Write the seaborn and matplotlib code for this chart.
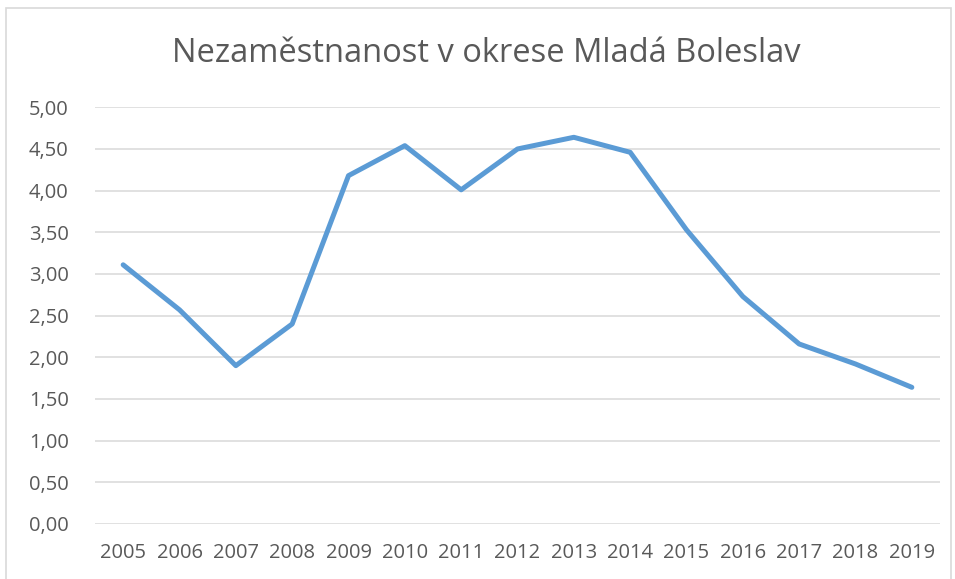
import numpy as np
import pandas as pd
import matplotlib
matplotlib.use("Agg")
import matplotlib.pyplot as plt
import seaborn as sns
from matplotlib.ticker import FuncFormatter
from matplotlib.patches import Rectangle

# data
years = [2005, 2006, 2007, 2008, 2009, 2010, 2011, 2012,
         2013, 2014, 2015, 2016, 2017, 2018, 2019]
rate = [3.11, 2.57, 1.90, 2.40, 4.18, 4.54, 4.01, 4.50,
        4.64, 4.46, 3.53, 2.73, 2.16, 1.92, 1.64]
y_ticks = [0, 0.5, 1.0, 1.5, 2.0, 2.5, 3.0, 3.5, 4.0, 4.5, 5.0]
title = "Nezaměstnanost v okrese Mladá Boleslav"

sns.set_theme(style="white")
plt.rcParams["font.family"] = ["Open Sans", "DejaVu Sans"]

TXT = "#595959"
df = pd.DataFrame({"Rok": years, "Nezamestnanost": rate})

fig = plt.figure(figsize=(9.55, 5.79), dpi=100)
ax = fig.add_axes([95 / 955, 55 / 579, 845 / 955, 416.7 / 579])

ax.set_yticks(y_ticks)
for v in y_ticks:
    ax.axhline(v, color="#D9D9D9", lw=1.1, zorder=0)

sns.lineplot(data=df, x="Rok", y="Nezamestnanost", color="#5B9BD5",
             lw=3.6, ax=ax, solid_capstyle="round", solid_joinstyle="round")

ax.set_xlim(2004.5, 2019.5)
ax.set_ylim(0, 5)
ax.set_xticks(years)
ax.set_xticklabels([str(y) for y in years])
ax.yaxis.set_major_formatter(FuncFormatter(lambda v, _: f"{v:.2f}".replace(".", ",")))
ax.tick_params(axis="both", length=0, labelsize=14.5, colors=TXT)
ax.tick_params(axis="y", pad=19)
ax.tick_params(axis="x", pad=14)
ax.set_xlabel(""); ax.set_ylabel("")
sns.despine(ax=ax, left=True, bottom=True)

fig.text(486 / 955, 1 - 53 / 579, title, ha="center", va="center",
         fontsize=23.5, color=TXT)

# light chart frame
fig.patches.append(Rectangle((6 / 955, -0.01), 945 / 955, 1 - 8 / 579 + 0.01,
                             transform=fig.transFigure, fill=False,
                             edgecolor="#D9D9D9", lw=1.2))

fig.savefig("out.png", dpi=100)
